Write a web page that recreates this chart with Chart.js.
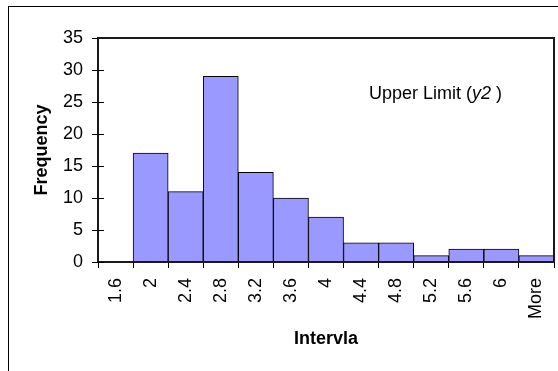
<!DOCTYPE html>
<html>
<head>
<meta charset="utf-8">
<script src="https://cdn.jsdelivr.net/npm/chart.js@4"></script>
<style>
  body { margin: 0; background: #fff; }
  canvas { display: block; }
</style>
</head>
<body>
<canvas id="hist-chart" width="558" height="371"></canvas>
<script>
// bins and counts
const bins = ['1.6', '2', '2.4', '2.8', '3.2', '3.6', '4', '4.4', '4.8', '5.2', '5.6', '6', 'More'];
const frequency = [0, 17, 11, 29, 14, 10, 7, 3, 3, 1, 2, 2, 1];
const yTicks = [0, 5, 10, 15, 20, 25, 30, 35];

const FONT = "'Liberation Sans', Arial, sans-serif";

// outer frame, plot border, cross ticks on y axis and the text note
const framePlugin = {
    id: 'frame',
    beforeDraw(chart) {
        const ctx = chart.ctx;
        ctx.save();
        ctx.fillStyle = '#fff';
        ctx.fillRect(0, 0, chart.width, chart.height);
        ctx.strokeStyle = '#000';
        ctx.lineWidth = 1;
        ctx.strokeRect(8.5, 6.5, 700, 500);
        ctx.restore();
    },
    afterDraw(chart) {
        const ctx = chart.ctx;
        const a = chart.chartArea;
        const y = chart.scales.y;
        ctx.save();
        ctx.strokeStyle = '#1a1a1a';
        ctx.lineWidth = 2;
        ctx.strokeRect(a.left, a.top, a.right - a.left, a.bottom - a.top);

        // tick marks cross the axis
        ctx.lineWidth = 1;
        ctx.strokeStyle = '#000';
        yTicks.forEach(v => {
            const py = Math.round(y.getPixelForValue(v)) + 0.5;
            ctx.beginPath();
            ctx.moveTo(a.left - 6, py);
            ctx.lineTo(a.left + (v === 35 ? 0 : 6), py);
            ctx.stroke();
        });

        // note
        ctx.fillStyle = '#000';
        ctx.textBaseline = 'alphabetic';
        ctx.textAlign = 'left';
        let x = 369;
        const base = 99;
        ctx.font = '18px ' + FONT;
        ctx.fillText('Upper Limit (', x, base);
        x += ctx.measureText('Upper Limit (').width;
        ctx.font = 'italic 18px ' + FONT;
        ctx.fillText('y2', x, base);
        x += ctx.measureText('y2').width;
        ctx.font = '18px ' + FONT;
        ctx.fillText(' )', x, base);
        ctx.restore();
    }
};

const ctx = document.getElementById('hist-chart');

new Chart(ctx, {
    type: 'bar',
    data: {
        labels: bins,
        datasets: [{
            label: 'Frequency',
            data: frequency,
            backgroundColor: '#9999FF',
            borderColor: '#000',
            borderWidth: 1,
            barPercentage: 1,
            categoryPercentage: 1
        }]
    },
    options: {
        responsive: false,
        animation: false,
        layout: {
            padding: { top: 38, right: 4, left: 0, bottom: 0 }
        },
        plugins: {
            legend: { display: false },
            tooltip: { enabled: false }
        },
        scales: {
            x: {
                grid: {
                    drawOnChartArea: false,
                    tickLength: 6,
                    color: '#000',
                    offset: true
                },
                border: { color: '#000', width: 2 },
                ticks: {
                    color: '#000',
                    font: { family: FONT, size: 18 },
                    minRotation: 90,
                    maxRotation: 90,
                    padding: 10,
                    autoSkip: false
                },
                title: {
                    display: true,
                    text: 'Intervla',
                    color: '#000',
                    font: { family: FONT, size: 18, weight: 'bold' },
                    padding: { top: 0, bottom: 21 }
                },
                afterFit: (scale) => {
                    scale.height = 109;
                    scale.paddingLeft = 0;
                    scale.paddingRight = 0;
                }
            },
            y: {
                min: 0,
                max: 35,
                grid: { display: false },
                border: { color: '#000', width: 2 },
                ticks: {
                    stepSize: 5,
                    color: '#000',
                    font: { family: FONT, size: 18 },
                    padding: 7
                },
                title: {
                    display: true,
                    text: 'Frequency',
                    color: '#000',
                    font: { family: FONT, size: 18, weight: 'bold' },
                    padding: { top: 31, bottom: 0 }
                },
                afterFit: (scale) => {
                    scale.width = 98;
                    scale.paddingTop = 0;
                    scale.paddingBottom = 0;
                }
            }
        }
    },
    plugins: [framePlugin]
});
</script>
</body>
</html>
